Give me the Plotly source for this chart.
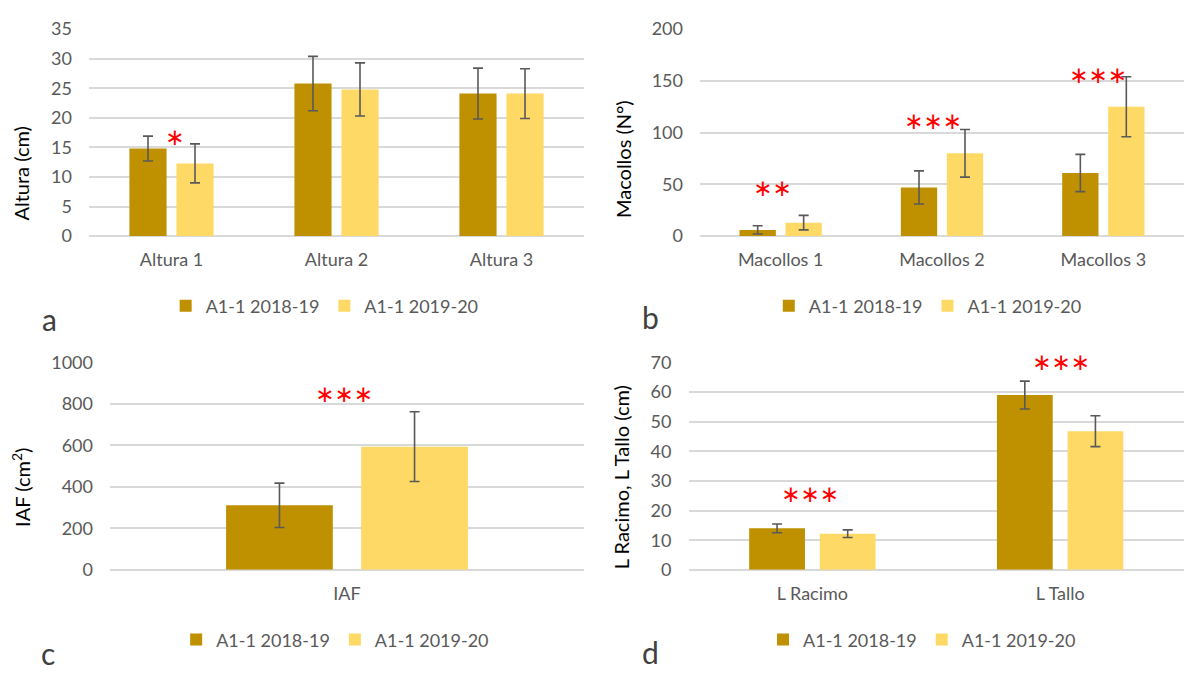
import plotly.graph_objects as go

W, H = 1184, 673

# ---- data ----
series_names = ["A1-1 2018-19", "A1-1 2019-20"]
colors = ["#BF9000", "#FFD966"]

altura_cats = ["Altura 1", "Altura 2", "Altura 3"]
altura_1819 = [14.8, 25.8, 24.1]
altura_1819_err = [2.1, 4.6, 4.3]
altura_1920 = [12.3, 24.8, 24.1]
altura_1920_err = [3.3, 4.5, 4.2]
altura_sig = ["*", "", ""]
altura_sig_y = [16.75, None, None]

macollos_cats = ["Macollos 1", "Macollos 2", "Macollos 3"]
macollos_1819 = [6, 47, 61]
macollos_1819_err = [4, 16, 18]
macollos_1920 = [13, 80, 125]
macollos_1920_err = [7, 23, 29]
macollos_sig = ["**", "***", "***"]
macollos_sig_y = [46.7, 111, 155.8]

iaf_cats = ["IAF"]
iaf_1819 = [311]
iaf_1819_err = [107]
iaf_1920 = [594]
iaf_1920_err = [168]
iaf_sig = ["***"]
iaf_sig_y = [848]

long_cats = ["L Racimo", "L Tallo"]
long_1819 = [14.0, 59.0]
long_1819_err = [1.5, 4.7]
long_1920 = [12.2, 46.8]
long_1920_err = [1.3, 5.2]
long_sig = ["***", "***"]
long_sig_y = [25.7, 70.1]

FONT = "Lato"
GRAY = "#595959"
GRID = "#d9d9d9"


def px_x(p):
    return p / W


def px_y(p):
    return 1 - p / H


panels = [
    dict(cats=altura_cats, a=altura_1819, ae=altura_1819_err, b=altura_1920, be=altura_1920_err,
         sig=altura_sig, sigy=altura_sig_y, xd=(89, 584), yd=(231.7, 17.7), rng=35, dt=5,
         title="Altura (cm)", tx=21, ty=167, letter="a", lx=49, ly=317, legy=304, shifts=[3, 0, 0]),
    dict(cats=macollos_cats, a=macollos_1819, ae=macollos_1819_err, b=macollos_1920, be=macollos_1920_err,
         sig=macollos_sig, sigy=macollos_sig_y, xd=(700, 1184), yd=(231.7, 17.7), rng=200, dt=50,
         title="Macollos (N°)", tx=623, ty=152, letter="b", lx=650, ly=315, legy=304, shifts=[-8, -9, -5]),
    dict(cats=iaf_cats, a=iaf_1819, ae=iaf_1819_err, b=iaf_1920, be=iaf_1920_err,
         sig=iaf_sig, sigy=iaf_sig_y, xd=(110, 584), yd=(576.7, 362.3), rng=1000, dt=200,
         title="IAF (cm<sup>2</sup>)", tx=21, ty=492, letter="c", lx=48, ly=663, legy=649, shifts=[-3]),
    dict(cats=long_cats, a=long_1819, ae=long_1819_err, b=long_1920, be=long_1920_err,
         sig=long_sig, sigy=long_sig_y, xd=(688.5, 1184), yd=(576.7, 362.3), rng=70, dt=10,
         title="L Racimo, L Tallo (cm)", tx=621, ty=481, letter="d", lx=650, ly=662, legy=649, shifts=[-2, 1]),
]

fig = go.Figure()
annotations = []
layout = {}

for i, p in enumerate(panels):
    n = "" if i == 0 else str(i + 1)
    xa, ya = "x" + n, "y" + n
    leg = "legend" + n
    for name, vals, errs, col in [(series_names[0], p["a"], p["ae"], colors[0]),
                                  (series_names[1], p["b"], p["be"], colors[1])]:
        fig.add_trace(go.Bar(
            x=p["cats"], y=vals, name=name, marker=dict(color=col, line=dict(width=0)),
            error_y=dict(type="data", array=errs, visible=True, color=GRAY, thickness=1.6, width=5),
            xaxis=xa, yaxis=ya, legend=leg, hoverinfo="skip",
        ))

    layout["xaxis" + n] = dict(
        domain=[px_x(p["xd"][0]), px_x(p["xd"][1])], anchor=ya, type="category",
        showgrid=False, showline=False, zeroline=False, ticks="",
        tickfont=dict(family=FONT, size=18, color=GRAY), ticklabelstandoff=11,
        fixedrange=True,
    )
    layout["yaxis" + n] = dict(
        domain=[px_y(p["yd"][0]), px_y(p["yd"][1])], anchor=xa, range=[0, p["rng"]],
        dtick=p["dt"], tick0=0, showgrid=True, gridcolor=GRID, gridwidth=1.6,
        zeroline=True, zerolinecolor=GRID, zerolinewidth=1.6, showline=False, ticks="",
        tickfont=dict(family=FONT, size=18, color=GRAY), ticklabelstandoff=16,
        fixedrange=True,
    )
    layout[leg] = dict(
        orientation="h", x=(p["xd"][0] + p["xd"][1]) / 2 / W - (0.01 if i % 2 == 0 else 0.012),
        xanchor="center", y=px_y(p["legy"]), yanchor="middle",
        font=dict(family=FONT, size=18, color=GRAY), bgcolor="rgba(0,0,0,0)",
        itemclick=False, itemdoubleclick=False, tracegroupgap=0,
    )

    # significance marks, placed on the axis domain so marks above the range stay visible
    for cat, s, sy, sh in zip(p["cats"], p["sig"], p["sigy"], p["shifts"]):
        if not s:
            continue
        annotations.append(dict(
            x=cat, y=sy / p["rng"], xref=xa, yref=ya + " domain", text="∗" * len(s),
            showarrow=False, xanchor="center", yanchor="middle", xshift=sh,
            font=dict(family="DejaVu Sans", size=23, color="#FF0000"),
        ))

    # y-axis title
    annotations.append(dict(
        x=px_x(p["tx"]), y=px_y(p["ty"]), xref="paper", yref="paper", text=p["title"],
        textangle=-90, showarrow=False, xanchor="center", yanchor="middle",
        font=dict(family=FONT, size=20, color="#000000"),
    ))
    # panel letter
    annotations.append(dict(
        x=px_x(p["lx"]), y=px_y(p["ly"]), xref="paper", yref="paper", text=p["letter"],
        showarrow=False, xanchor="center", yanchor="middle",
        font=dict(family=FONT, size=30, color="#404040"),
    ))

fig.update_layout(
    width=W, height=H, margin=dict(l=0, r=0, t=0, b=0),
    paper_bgcolor="white", plot_bgcolor="white",
    barmode="group", bargap=0.43, bargroupgap=0.21,
    annotations=annotations, **layout,
)

fig.write_html("out.html", config={"displayModeBar": False})
